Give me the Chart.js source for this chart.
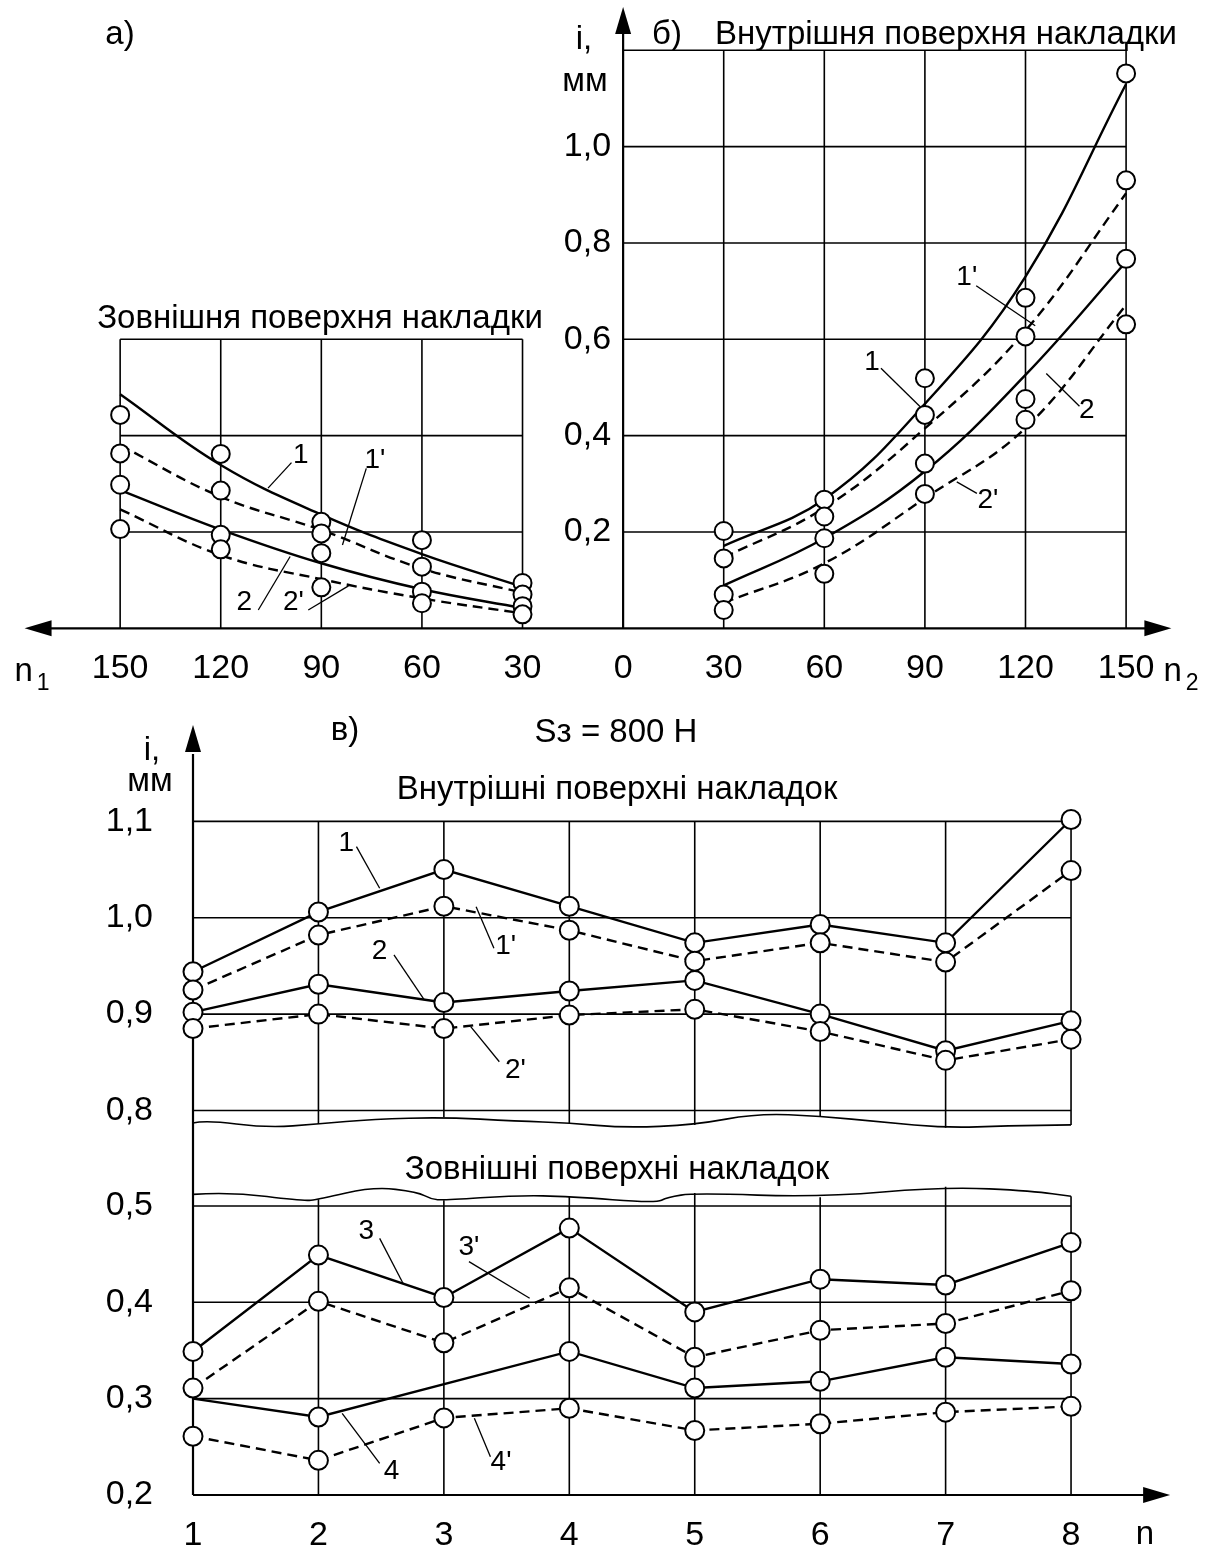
<!DOCTYPE html>
<html>
<head>
<meta charset="utf-8">
<script src="https://cdn.jsdelivr.net/npm/chart.js@4.4.1/dist/chart.umd.min.js"></script>
<style>
  body { margin: 0; background: #fff; }
  #page { position: relative; width: 1207px; height: 1551px; background: #fff; overflow: hidden; }
  canvas { position: absolute; left: 0; }
  #topChart { top: 0; }
  #bottomChart { top: 700px; }
  .t {
    position: absolute;
    font-family: "Liberation Sans", Arial, sans-serif;
    font-size: 33px;
    line-height: 1;
    white-space: nowrap;
    transform: translate(-50%, -50%);
    color: #000;
  }
  .t .sub { font-size: 23px; position: relative; top: 9px; margin-left: 4px; }
</style>
</head>
<body>
<div id="page">
  <canvas id="topChart" width="1207" height="700"></canvas>
  <canvas id="bottomChart" width="1207" height="851"></canvas>

  <div class="t" style="left:120px;top:32px">а)</div>
  <div class="t" style="left:584px;top:37px">i,</div>
  <div class="t" style="left:585px;top:79px">мм</div>
  <div class="t" style="left:667px;top:32px">б)</div>
  <div class="t" style="left:946px;top:32px">Внутрішня поверхня накладки</div>
  <div class="t" style="left:320px;top:316px">Зовнішня поверхня накладки</div>
  <div class="t" style="left:32px;top:669px">n<span class="sub">1</span></div>
  <div class="t" style="left:1181px;top:669px">n<span class="sub">2</span></div>

  <div class="t" style="left:345px;top:728px">в)</div>
  <div class="t" style="left:616px;top:730px">Sз = 800 Н</div>
  <div class="t" style="left:152px;top:748px">i,</div>
  <div class="t" style="left:150px;top:779px">мм</div>
  <div class="t" style="left:617px;top:787px">Внутрішні поверхні накладок</div>
  <div class="t" style="left:617px;top:1167px">Зовнішні поверхні накладок</div>
  <div class="t" style="left:1145px;top:1532px">n</div>
</div>

<script>
// ---- a) outer surface, n1 (drawn to the left of zero) ----
const nOuter = [150, 120, 90, 60, 30];
const outer1 = [0.486, 0.339, 0.236, 0.154, 0.086];
const outer1p = [0.380, 0.273, 0.204, 0.124, 0.074];
const outer2 = [0.287, 0.205, 0.135, 0.081, 0.042];
const outer2p = [0.247, 0.152, 0.102, 0.062, 0.031];
// measured points, one row per n1 value
const outerMarks = [
    [0.443, 0.363, 0.298, 0.206],
    [0.362, 0.286, 0.194, 0.164],
    [0.221, 0.197, 0.156, 0.085],
    [0.183, 0.128, 0.076, 0.052],
    [0.094, 0.070, 0.046, 0.029]
];

// ---- b) inner surface, n2 ----
const nInner = [30, 60, 90, 120, 150];
const inner1 = [0.171, 0.268, 0.466, 0.730, 1.130];
const inner1p = [0.147, 0.250, 0.415, 0.618, 0.903];
const inner2 = [0.089, 0.187, 0.326, 0.526, 0.761];
const inner2p = [0.053, 0.135, 0.270, 0.416, 0.671];
const innerMarks = [
    [0.202, 0.145, 0.070, 0.038],
    [0.267, 0.232, 0.187, 0.113],
    [0.519, 0.443, 0.342, 0.279],
    [0.686, 0.606, 0.476, 0.433],
    [1.152, 0.930, 0.767, 0.631]
];

// ---- в) S = 800 H ----
const nPos = [1, 2, 3, 4, 5, 6, 7, 8];
const in1 = [0.944, 1.006, 1.050, 1.012, 0.974, 0.993, 0.974, 1.102];
const in1p = [0.925, 0.982, 1.012, 0.987, 0.955, 0.974, 0.954, 1.049];
const in2 = [0.902, 0.931, 0.912, 0.924, 0.935, 0.900, 0.862, 0.893];
const in2p = [0.885, 0.900, 0.885, 0.899, 0.905, 0.882, 0.852, 0.874];
const out3 = [0.349, 0.449, 0.405, 0.477, 0.390, 0.424, 0.418, 0.462];
const out3p = [0.311, 0.401, 0.358, 0.415, 0.343, 0.371, 0.378, 0.412];
const n4 = [1, 2, 4, 5, 6, 7, 8];
const out4 = [0.300, 0.281, 0.349, 0.311, 0.318, 0.343, 0.336];
const out4p = [0.261, 0.236, 0.280, 0.290, 0.267, 0.274, 0.286, 0.292];

// ---- tick labels ----
const topXTicks = [-150, -120, -90, -60, -30, 0, 30, 60, 90, 120, 150];
const topYTicks = [0.2, 0.4, 0.6, 0.8, 1.0];
const inYTicks = [0.8, 0.9, 1.0, 1.1];
const outYTicks = [0.2, 0.3, 0.4, 0.5];

// break lines of the lower diagram ([n, value])
const breakIn = [[1, 0.787], [1.1, 0.790], [1.59, 0.782], [2, 0.786], [2.44, 0.791], [3, 0.793],
    [3.58, 0.789], [4, 0.787], [4.44, 0.782], [5, 0.785], [5.5, 0.797], [6, 0.794],
    [6.5, 0.788], [7, 0.782], [7.5, 0.784], [8, 0.785]];
const breakOut = [[1, 0.512], [1.3, 0.5145], [1.88, 0.505], [2, 0.507], [2.44, 0.520], [2.79, 0.5145],
    [2.9, 0.507], [3, 0.506], [3.58, 0.511], [4, 0.510], [4.69, 0.503], [4.78, 0.509],
    [5, 0.5135], [6, 0.509], [7, 0.520], [7.7, 0.5155], [8, 0.510]];

const FONT = '"Liberation Sans", Arial, sans-serif';
Chart.defaults.font.family = FONT;
Chart.defaults.color = '#000';

const xy = (xs, ys) => xs.map((x, i) => ({ x: x, y: ys[i] }));
const neg = xs => xs.map(v => -v);
const comma = v => v.toFixed(1).replace('.', ',');

function curve(data, dashed, axis, smooth) {
    return {
        data: data,
        yAxisID: axis,
        borderColor: '#000',
        borderWidth: 2.4,
        borderDash: dashed ? [10, 6] : [],
        pointRadius: 0,
        fill: false,
        tension: smooth ? 0.4 : 0,
        order: 2
    };
}

function marks(data, r, axis) {
    return {
        data: data,
        yAxisID: axis,
        showLine: false,
        pointRadius: r,
        pointBackgroundColor: '#fff',
        pointBorderColor: '#000',
        pointBorderWidth: 2,
        order: 1
    };
}

function seg(ctx, x1, y1, x2, y2) {
    ctx.beginPath();
    ctx.moveTo(x1, y1);
    ctx.lineTo(x2, y2);
    ctx.stroke();
}

// filled arrow head, (dx, dy) is the pointing direction
function arrowHead(ctx, tx, ty, dx, dy) {
    const len = 27, half = 8;
    const bx = tx - dx * len, by = ty - dy * len;
    ctx.beginPath();
    ctx.moveTo(tx, ty);
    ctx.lineTo(bx - dy * half, by + dx * half);
    ctx.lineTo(bx + dy * half, by - dx * half);
    ctx.closePath();
    ctx.fill();
}

function wave(ctx, pts) {
    ctx.beginPath();
    ctx.moveTo(pts[0][0], pts[0][1]);
    for (let i = 1; i < pts.length - 1; i++) {
        const mx = (pts[i][0] + pts[i + 1][0]) / 2;
        const my = (pts[i][1] + pts[i + 1][1]) / 2;
        ctx.quadraticCurveTo(pts[i][0], pts[i][1], mx, my);
    }
    const last = pts[pts.length - 1];
    ctx.lineTo(last[0], last[1]);
    ctx.stroke();
}

function drawNotes(ctx, notes, X, Y) {
    ctx.save();
    ctx.fillStyle = '#000';
    ctx.strokeStyle = '#000';
    ctx.lineWidth = 1.3;
    ctx.font = '28px ' + FONT;
    ctx.textAlign = 'center';
    ctx.textBaseline = 'middle';
    notes.forEach(n => {
        seg(ctx, X(n.from[0]), Y(n.from[1]), X(n.to[0]), Y(n.to[1]));
        ctx.fillText(n.text, X(n.x), Y(n.y));
    });
    ctx.restore();
}

/**
 * Top diagrams a) and б)
 */
const topNotes = [
    { text: '1', x: -96.1, y: 0.360, from: [-98.9, 0.344], to: [-105.9, 0.291] },
    { text: "1'", x: -74.0, y: 0.348, from: [-76.6, 0.332], to: [-83.7, 0.173] },
    { text: '2', x: -113.0, y: 0.055, from: [-108.8, 0.038], to: [-99.3, 0.149] },
    { text: "2'", x: -98.3, y: 0.055, from: [-93.9, 0.038], to: [-81.9, 0.088] },
    { text: "1'", x: 102.5, y: 0.729, from: [105.3, 0.711], to: [122.9, 0.628] },
    { text: '1', x: 74.2, y: 0.553, from: [76.9, 0.540], to: [88.6, 0.460] },
    { text: '2', x: 138.3, y: 0.453, from: [136.1, 0.461], to: [126.2, 0.529] },
    { text: "2'", x: 108.8, y: 0.265, from: [105.5, 0.280], to: [99.5, 0.304] }
];

const topFrame = {
    id: 'topFrame',
    beforeDatasetsDraw(chart) {
        const { ctx, scales: { x, y } } = chart;
        const X = v => x.getPixelForValue(v);
        const Y = v => y.getPixelForValue(v);
        ctx.save();
        ctx.strokeStyle = '#000';
        ctx.fillStyle = '#000';
        ctx.lineWidth = 1.6;
        // outer surface grid
        nOuter.forEach(v => seg(ctx, X(-v), Y(0), X(-v), Y(0.6)));
        [0.2, 0.4, 0.6].forEach(v => seg(ctx, X(-150), Y(v), X(-30), Y(v)));
        // inner surface grid
        nInner.forEach(v => seg(ctx, X(v), Y(0), X(v), Y(1.2)));
        [0.2, 0.4, 0.6, 0.8, 1.0, 1.2].forEach(v => seg(ctx, X(0), Y(v), X(150), Y(v)));
        // axes with arrows
        ctx.lineWidth = 2.2;
        seg(ctx, X(-172), Y(0), X(157), Y(0));
        seg(ctx, X(0), Y(0), X(0), Y(1.24));
        arrowHead(ctx, X(163.5), Y(0), 1, 0);
        arrowHead(ctx, X(-178.5), Y(0), -1, 0);
        arrowHead(ctx, X(0), Y(1.29), 0, -1);
        ctx.restore();
    },
    afterDraw(chart) {
        const { ctx, scales: { x, y } } = chart;
        drawNotes(ctx, topNotes, v => x.getPixelForValue(v), v => y.getPixelForValue(v));
    }
};

const topDatasets = [
    curve(xy(neg(nOuter), outer1), false, 'y', true),
    curve(xy(neg(nOuter), outer1p), true, 'y', true),
    curve(xy(neg(nOuter), outer2), false, 'y', true),
    curve(xy(neg(nOuter), outer2p), true, 'y', true),
    curve(xy(nInner, inner1), false, 'y', true),
    curve(xy(nInner, inner1p), true, 'y', true),
    curve(xy(nInner, inner2), false, 'y', true),
    curve(xy(nInner, inner2p), true, 'y', true),
    marks(nOuter.flatMap((n, i) => outerMarks[i].map(v => ({ x: -n, y: v }))), 9, 'y'),
    marks(nInner.flatMap((n, i) => innerMarks[i].map(v => ({ x: n, y: v }))), 9, 'y')
];

new Chart(document.getElementById('topChart'), {
    type: 'line',
    data: { datasets: topDatasets },
    options: {
        responsive: false,
        animation: false,
        events: [],
        layout: { padding: 40 },
        plugins: { legend: { display: false }, tooltip: { enabled: false } },
        scales: {
            x: {
                type: 'linear',
                position: { y: 0 },
                min: -173.9,
                max: 162.2,
                afterBuildTicks: s => { s.ticks = topXTicks.map(v => ({ value: v })); },
                grid: { display: false, drawTicks: false },
                border: { display: false },
                ticks: {
                    autoSkip: false,
                    maxRotation: 0,
                    padding: 20,
                    font: { size: 34 },
                    color: '#000',
                    callback: v => String(Math.abs(v))
                }
            },
            y: {
                type: 'linear',
                axis: 'y',
                position: { x: -3.6 },
                min: -0.0658,
                max: 1.2213,
                afterBuildTicks: s => { s.ticks = topYTicks.map(v => ({ value: v })); },
                grid: { display: false, drawTicks: false },
                border: { display: false },
                ticks: { padding: 0, font: { size: 34 }, color: '#000', callback: v => comma(v) }
            }
        }
    },
    plugins: [topFrame]
});

/**
 * Bottom diagram в)
 */
const bottomNotes = {
    yIn: [
        { text: '1', x: 2.223, y: 1.0773, from: [2.303, 1.0738], to: [2.488, 1.0306] },
        { text: "1'", x: 3.493, y: 0.970, from: [3.399, 0.9683], to: [3.257, 1.0115] },
        { text: '2', x: 2.488, y: 0.9648, from: [2.602, 0.9614], to: [2.844, 0.9147] },
        { text: "2'", x: 3.570, y: 0.8413, from: [3.442, 0.8506], to: [3.214, 0.887] }
    ],
    y: [
        { text: '3', x: 2.382, y: 0.4733, from: [2.488, 0.4664], to: [2.674, 0.4197] },
        { text: "3'", x: 3.200, y: 0.4571, from: [3.200, 0.4422], to: [3.684, 0.4042] },
        { text: '4', x: 2.582, y: 0.2242, from: [2.488, 0.2329], to: [2.189, 0.2848] },
        { text: "4'", x: 3.456, y: 0.2335, from: [3.371, 0.2397], to: [3.243, 0.2796] }
    ]
};

const breakAt = (pts, k) => pts.find(p => p[0] === k)[1];

const bottomFrame = {
    id: 'bottomFrame',
    beforeDatasetsDraw(chart) {
        const { ctx, scales: { x, y, yIn } } = chart;
        const X = v => x.getPixelForValue(v);
        const Y = v => y.getPixelForValue(v);
        const YI = v => yIn.getPixelForValue(v);
        ctx.save();
        ctx.strokeStyle = '#000';
        ctx.fillStyle = '#000';
        ctx.lineWidth = 1.6;
        // inner surfaces box
        inYTicks.forEach(v => seg(ctx, X(1), YI(v), X(8), YI(v)));
        nPos.slice(1).forEach(k => seg(ctx, X(k), YI(1.1), X(k), YI(breakAt(breakIn, k))));
        wave(ctx, breakIn.map(p => [X(p[0]), YI(p[1])]));
        // outer surfaces box
        outYTicks.slice(1).forEach(v => seg(ctx, X(1), Y(v), X(8), Y(v)));
        nPos.slice(1).forEach(k => seg(ctx, X(k), Y(0.2), X(k), Y(breakAt(breakOut, k))));
        wave(ctx, breakOut.map(p => [X(p[0]), Y(p[1])]));
        // axes
        ctx.lineWidth = 2.2;
        seg(ctx, X(1), Y(0.2), X(8.6), Y(0.2));
        seg(ctx, X(1), Y(0.2), X(1), YI(1.17));
        arrowHead(ctx, X(8.79), Y(0.2), 1, 0);
        arrowHead(ctx, X(1), YI(1.2), 0, -1);
        ctx.restore();
    },
    afterDraw(chart) {
        const { ctx, scales: { x, y, yIn } } = chart;
        const X = v => x.getPixelForValue(v);
        drawNotes(ctx, bottomNotes.yIn, X, v => yIn.getPixelForValue(v));
        drawNotes(ctx, bottomNotes.y, X, v => y.getPixelForValue(v));
    }
};

const bottomDatasets = [
    curve(xy(nPos, in1), false, 'yIn', false),
    curve(xy(nPos, in1p), true, 'yIn', false),
    curve(xy(nPos, in2), false, 'yIn', false),
    curve(xy(nPos, in2p), true, 'yIn', false),
    curve(xy(nPos, out3), false, 'y', false),
    curve(xy(nPos, out3p), true, 'y', false),
    curve(xy(n4, out4), false, 'y', false),
    curve(xy(nPos, out4p), true, 'y', false),
    marks([in1, in1p, in2, in2p].flatMap(s => xy(nPos, s)), 9.5, 'yIn'),
    marks([out3, out3p, out4p].flatMap(s => xy(nPos, s)).concat(xy(n4, out4).slice(1)), 9.5, 'y')
];

const yLabelAt = 1 - 40 / 125.43;

new Chart(document.getElementById('bottomChart'), {
    type: 'line',
    data: { datasets: bottomDatasets },
    options: {
        responsive: false,
        animation: false,
        events: [],
        layout: { padding: 40 },
        plugins: { legend: { display: false }, tooltip: { enabled: false } },
        scales: {
            x: {
                type: 'linear',
                position: { y: 0.2 },
                min: -0.2198,
                max: 8.765,
                afterBuildTicks: s => { s.ticks = nPos.map(v => ({ value: v })); },
                grid: { display: false, drawTicks: false },
                border: { display: false },
                ticks: { autoSkip: false, maxRotation: 0, padding: 20, font: { size: 34 }, color: '#000' }
            },
            y: {
                type: 'linear',
                axis: 'y',
                position: { x: yLabelAt },
                min: 0.1834,
                max: 0.9836,
                afterBuildTicks: s => { s.ticks = outYTicks.map(v => ({ value: v })); },
                grid: { display: false, drawTicks: false },
                border: { display: false },
                ticks: { padding: 0, font: { size: 34 }, color: '#000', callback: v => comma(v) }
            },
            yIn: {
                type: 'linear',
                axis: 'y',
                position: { x: yLabelAt },
                min: 0.3843,
                max: 1.1845,
                afterBuildTicks: s => { s.ticks = inYTicks.map(v => ({ value: v })); },
                grid: { display: false, drawTicks: false },
                border: { display: false },
                ticks: { padding: 0, font: { size: 34 }, color: '#000', callback: v => comma(v) }
            }
        }
    },
    plugins: [bottomFrame]
});
</script>
</body>
</html>
